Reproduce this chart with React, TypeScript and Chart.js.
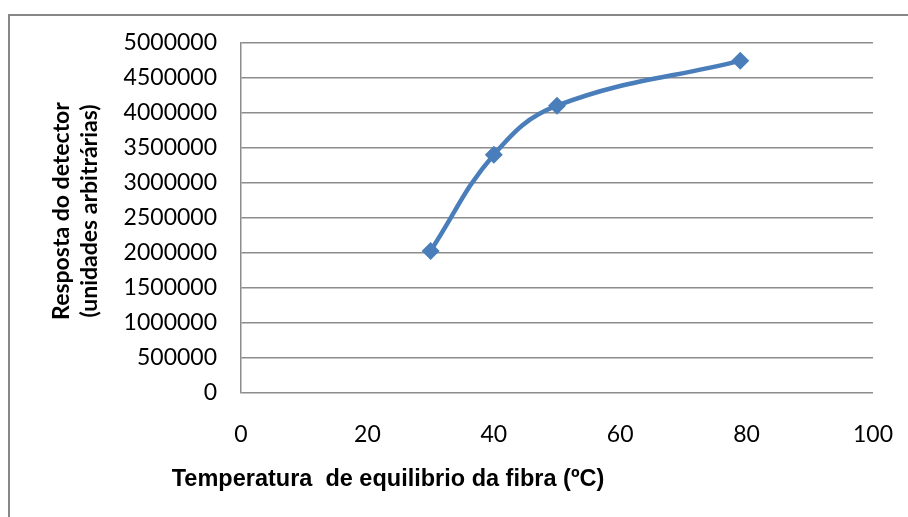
import React, { useEffect, useRef } from "react";
import { Chart, registerables } from "chart.js";

Chart.register(...registerables);

const temperatures = [30, 40, 50, 79];
const responses = [2030000, 3405000, 4105000, 4745000];
const xTitle = "Temperatura  de equilibrio da fibra (ºC)";
const yTitleLines = ["Resposta do detector", "(unidades arbitrárias)"];

const TICK_FONT = "Lato";

const framePlugin = {
  id: "frame",
  beforeDraw(chart: any) {
    const ctx = chart.ctx;
    ctx.save();
    ctx.fillStyle = "#ffffff";
    ctx.fillRect(0, 0, chart.width, chart.height);
    ctx.strokeStyle = "#878787";
    ctx.lineWidth = 2;
    ctx.beginPath();
    ctx.moveTo(9, chart.height);
    ctx.lineTo(9, 15);
    ctx.lineTo(chart.width, 15);
    ctx.stroke();
    ctx.restore();
  },
  afterDraw(chart: any) {
    const ctx = chart.ctx;
    ctx.save();
    ctx.fillStyle = "#000000";
    ctx.textAlign = "center";
    ctx.textBaseline = "middle";
    ctx.font = "bold 23.5px 'Liberation Sans'";
    ctx.fillText(xTitle, 388, 480);
    ctx.translate(76, 211);
    ctx.rotate(-Math.PI / 2);
    ctx.font = `bold 23px ${TICK_FONT}`;
    ctx.fillText(yTitleLines[0], 0, -14);
    ctx.fillText(yTitleLines[1], 0, 14);
    ctx.restore();
  },
};

export default function App() {
  const ref = useRef<HTMLCanvasElement | null>(null);
  useEffect(() => {
    if (!ref.current) return;
    const chart = new Chart(ref.current, {
      type: "line",
      data: {
        datasets: [
          {
            data: temperatures.map((t, i) => ({ x: t, y: responses[i] })),
            borderColor: "#4A7EBB",
            backgroundColor: "#4A7EBB",
            borderWidth: 4.5,
            tension: 0.4,
            pointStyle: "rectRot",
            pointRadius: 9,
            pointBorderWidth: 0,
            fill: false,
          },
        ],
      },
      options: {
        animation: false,
        responsive: false,
        layout: { padding: { left: 0, top: 43, right: 35, bottom: 0 } },
        plugins: { legend: { display: false }, tooltip: { enabled: false } },
        scales: {
          x: {
            type: "linear",
            min: 0,
            max: 100,
            ticks: {
              stepSize: 20,
              padding: 28,
              color: "#000",
              font: { family: TICK_FONT, size: 23 },
            },
            grid: { display: false, drawTicks: false },
            border: { display: false },
            afterFit(scale: any) {
              scale.height = 124;
              scale.paddingRight = 0;
              scale.paddingLeft = 0;
            },
          },
          y: {
            type: "linear",
            min: 0,
            max: 5000000,
            ticks: {
              stepSize: 500000,
              padding: 24,
              color: "#000",
              font: { family: TICK_FONT, size: 23 },
              callback: (v: any) => String(v),
            },
            grid: { color: "#8c8c8c", lineWidth: 1.5, drawTicks: false },
            border: { display: true, color: "#8c8c8c", width: 1.5 },
            afterFit(scale: any) {
              scale.width = 241;
              scale.paddingTop = 0;
              scale.paddingBottom = 0;
            },
          },
        },
      },
      plugins: [framePlugin],
    });
    return () => chart.destroy();
  }, []);
  return (
    <div style={{ position: "fixed", left: 0, top: 0, width: 908, height: 517 }}>
      <canvas ref={ref} width={908} height={517} style={{ display: "block" }} />
    </div>
  );
}
